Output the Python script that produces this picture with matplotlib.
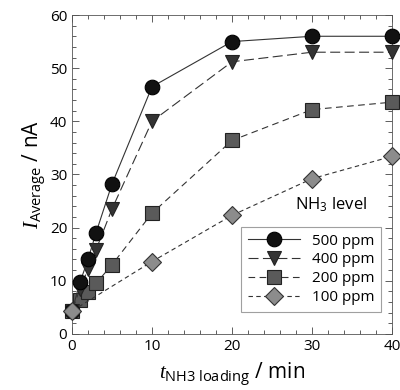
import matplotlib
matplotlib.use("Agg")
import matplotlib.pyplot as plt
from matplotlib.ticker import MultipleLocator

plt.rcParams['font.family'] = ['Open Sans', 'DejaVu Sans']
plt.rcParams['mathtext.fontset'] = 'custom'
plt.rcParams['mathtext.rm'] = 'Open Sans'
plt.rcParams['mathtext.it'] = 'Liberation Serif:italic'

t = [0, 1, 2, 3, 5, 10, 20, 30, 40]
i500 = [4.3, 9.7, 14.0, 19.0, 28.2, 46.5, 55.0, 56.0, 56.0]
i400 = [4.3, 8.5, 12.2, 15.8, 23.5, 40.0, 51.2, 53.0, 53.0]
i200 = [4.3, 6.3, 7.8, 9.5, 13.0, 22.7, 36.4, 42.2, 43.6]
t100 = [0, 10, 20, 30, 40]
i100 = [4.3, 13.6, 22.3, 29.2, 33.4]

fig = plt.figure(figsize=(4.0, 3.9), dpi=100)
ax = fig.add_axes([0.18, 0.144, 0.80, 0.8175])

lc = '#333333'
ax.plot(t, i500, '-', color=lc, lw=0.8, marker='o', ms=10.5, clip_on=False,
        mfc='#111111', mec='#000000', mew=0.8, label='500 ppm', zorder=5)
ax.plot(t, i400, color=lc, lw=0.8, ls=(0, (9, 4)), marker='v', ms=10.5, clip_on=False,
        mfc='#333333', mec='#222222', mew=0.8, label='400 ppm', zorder=4)
ax.plot(t, i200, color=lc, lw=0.8, ls=(0, (6, 4)), marker='s', ms=10, clip_on=False,
        mfc='#5a5a5a', mec='#222222', mew=0.8, label='200 ppm', zorder=3)
ax.plot(t100, i100, color=lc, lw=0.8, ls=(0, (4, 3)), marker='D', ms=9, clip_on=False,
        mfc='#8c8c8c', mec='#333333', mew=0.8, label='100 ppm', zorder=6)

ax.set_xlim(0, 40)
ax.set_ylim(0, 60)
ax.xaxis.set_major_locator(MultipleLocator(10))
ax.xaxis.set_minor_locator(MultipleLocator(2))
ax.yaxis.set_major_locator(MultipleLocator(10))
ax.yaxis.set_minor_locator(MultipleLocator(2))
ax.tick_params(which='both', direction='in', top=True, right=True,
               labelsize=11, width=0.6, colors='#444444', labelcolor='black')
ax.tick_params(which='major', length=5)
ax.tick_params(which='minor', length=3)
for s in ax.spines.values():
    s.set_linewidth(0.6)
    s.set_color('#555555')

ax.set_xlabel(r'$\mathit{t}_{\mathrm{NH3\ loading}}$ / min', fontsize=15, labelpad=5)
ax.set_ylabel(r'$\mathit{I}_{\mathrm{Average}}$ / nA', fontsize=15, labelpad=1)

leg = ax.legend(loc='lower right', bbox_to_anchor=(0.99, 0.045), fontsize=11,
                frameon=True, fancybox=False, edgecolor='#888888',
                handlelength=3.4, borderpad=0.45, labelspacing=0.25)
leg.get_frame().set_linewidth(0.8)
leg.set_zorder(10)
ax.text(0.81, 0.375, r'NH$_3$ level', transform=ax.transAxes, fontsize=12,
        ha='center', va='bottom')

fig.savefig('out.png', dpi=100)
